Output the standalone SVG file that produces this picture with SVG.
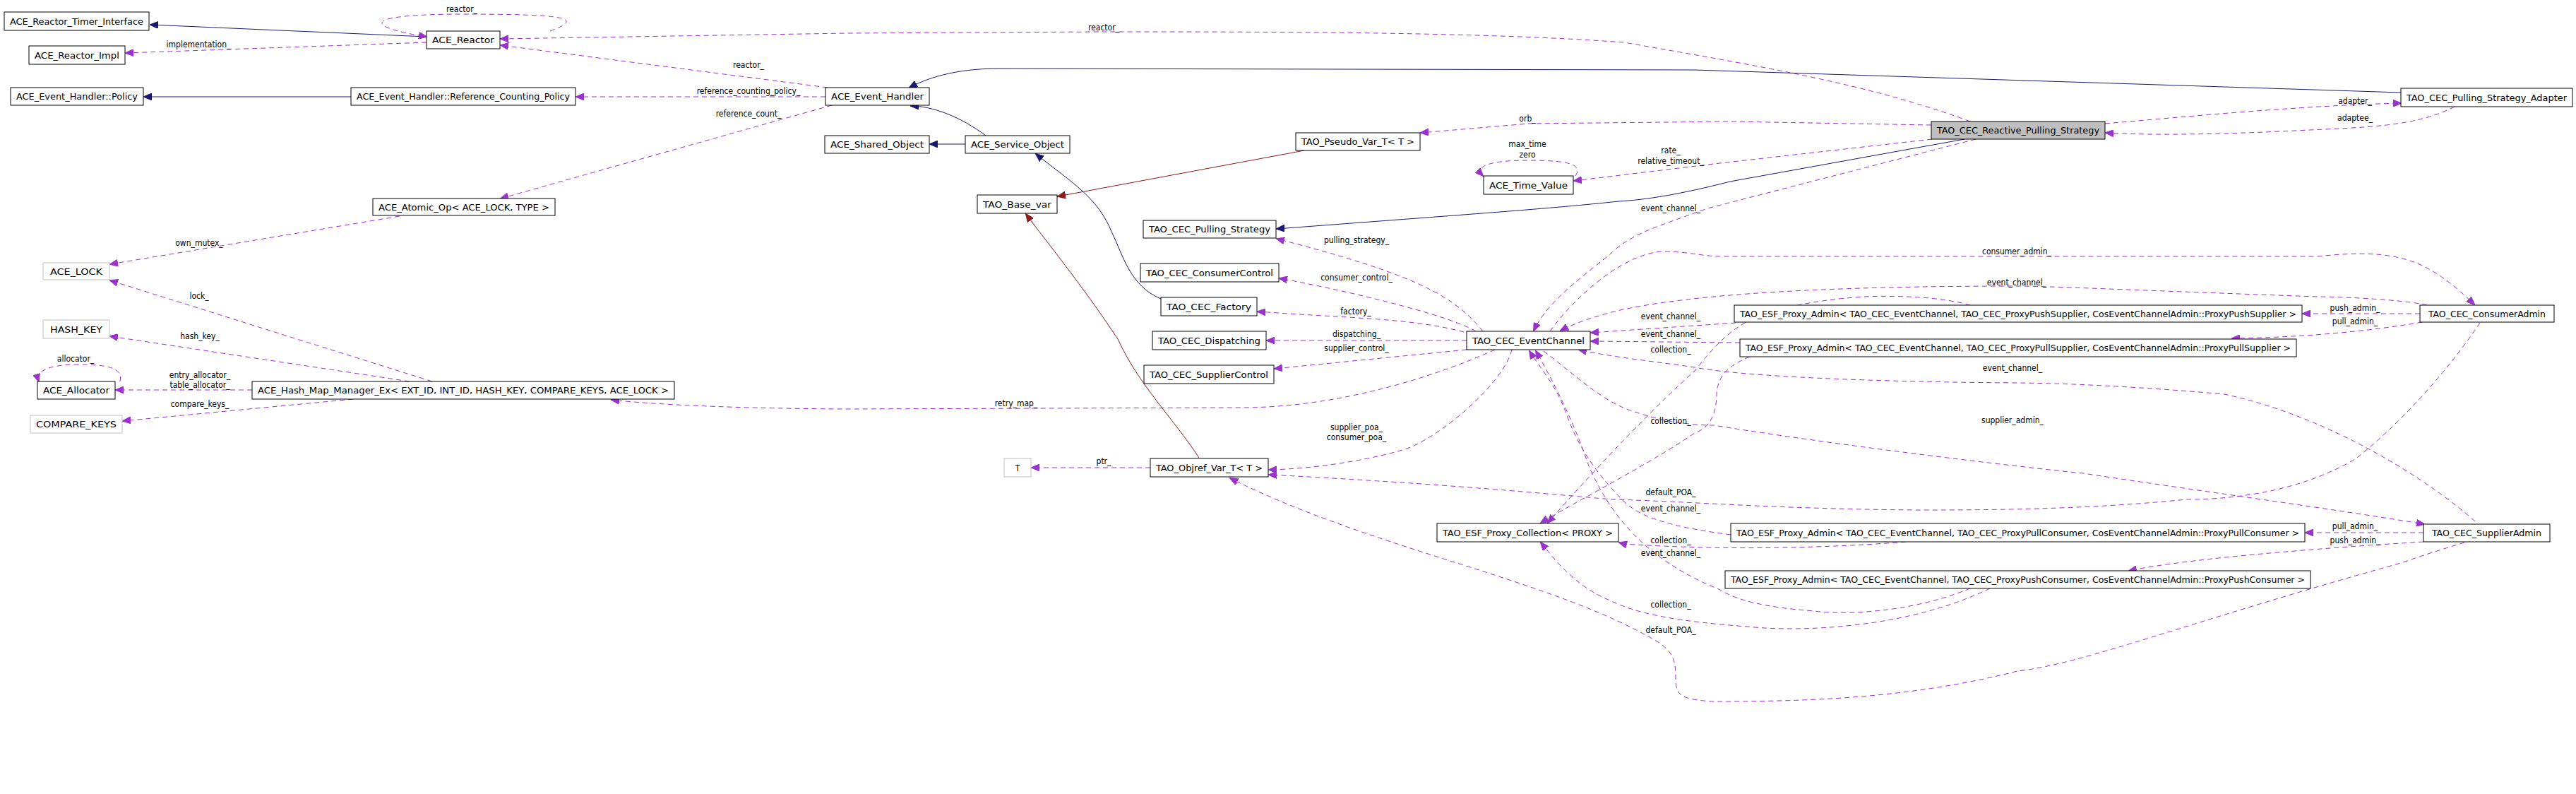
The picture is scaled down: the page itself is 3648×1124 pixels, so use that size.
<svg xmlns="http://www.w3.org/2000/svg" width="3648" height="1124" viewBox="0 0 3648 1124">
<style>
.n rect{fill:#fff;stroke:#000;stroke-width:1}
.n.g rect{stroke:#bfbfbf}
.n.f rect{fill:#bfbfbf}
text{font-family:"DejaVu Sans Condensed","DejaVu Sans",sans-serif;font-size:12px;fill:#000}
.n text{text-anchor:middle}
.l{text-anchor:middle}
.u{fill:none;stroke:#9a32cd;stroke-dasharray:7,5;marker-end:url(#mu)}
.i{fill:none;stroke:#191970;marker-end:url(#mi)}
.t{fill:none;stroke:#8b1a1a;marker-end:url(#mt)}
</style>
<defs>
<marker id="mu" markerWidth="12" markerHeight="10" refX="11" refY="5" orient="auto" markerUnits="userSpaceOnUse"><path d="M0,0 L12,5 L0,10 Z" fill="#9a32cd" stroke="#9a32cd"/></marker>
<marker id="mi" markerWidth="12" markerHeight="10" refX="11" refY="5" orient="auto" markerUnits="userSpaceOnUse"><path d="M0,0 L12,5 L0,10 Z" fill="#191970" stroke="#191970"/></marker>
<marker id="mt" markerWidth="12" markerHeight="10" refX="11" refY="5" orient="auto" markerUnits="userSpaceOnUse"><path d="M0,0 L12,5 L0,10 Z" fill="#8b1a1a" stroke="#8b1a1a"/></marker>
</defs>
<rect width="3648" height="1124" fill="#fff"/>
<g id="connectors">
<path class="i" d="M604,52 L213,35"/>
<path class="i" d="M497,137 L204,137"/>
<path class="i" d="M1396,192 C1360,165 1320,150 1290,150"/>
<path class="i" d="M1367,204 L1317,204"/>
<path class="i" d="M1644,423 C1600,405 1590,360 1575,330 C1555,280 1520,260 1467,218"/>
<path class="i" d="M3400,131 L2400,99 L1415,97 C1350,97 1310,112 1288,124"/>
<path class="i" d="M2782,197 L2450,257 C2380,275 2330,283 2292,285 C2200,295 2085,303 1808,324"/>
<path class="t" d="M1847,213 L1498,278"/>
<path class="t" d="M1698,648 C1660,590 1614,547 1583,480 C1530,400 1480,340 1453,303"/>
<path class="u" d="M779,44 C830,25 800,20 656,20 C510,20 515,38 604,52"/>
<path class="u" d="M604,60 L178,75"/>
<path class="u" d="M2790,172 C2650,120 2500,95 2300,60 C2100,45 1800,45 1563,45 L1200,47 L709,55"/>
<path class="u" d="M1172,124 L709,64"/>
<path class="u" d="M1169,137 L816,137"/>
<path class="u" d="M1178,149 L709,281"/>
<path class="u" d="M566,306 L156,374"/>
<path class="u" d="M612,540 L156,397"/>
<path class="u" d="M580,540 L156,476"/>
<path class="u" d="M170,540 C175,520 150,516 110,516 C70,516 50,525 55,540"/>
<path class="u" d="M357,552 L164,552"/>
<path class="u" d="M500,565 L174,596"/>
<path class="u" d="M2117,495 C2040,530 1900,577 1758,577 L1200,579 C1000,578 900,570 866,566"/>
<path class="u" d="M1629,662 L1461,662"/>
<path class="u" d="M2735,177 L2450,172 L2165,175 L2012,188"/>
<path class="u" d="M2231,249 C2240,235 2230,227 2165,227 C2100,227 2090,238 2100,249"/>
<path class="u" d="M2736,197 L2427,232 L2229,256"/>
<path class="u" d="M2798,197 L2418,295 C2350,320 2310,330 2280,360 C2230,400 2190,430 2172,468"/>
<path class="u" d="M2100,469 C2060,420 2010,390 1808,338"/>
<path class="u" d="M2090,469 C2050,445 1900,410 1812,394"/>
<path class="u" d="M2073,470 C2000,450 1900,450 1781,441"/>
<path class="u" d="M2077,482 L1794,482"/>
<path class="u" d="M2077,495 L1805,522"/>
<path class="u" d="M2141,495 C2130,540 2050,610 1998,633 C1950,650 1860,664 1797,665"/>
<path class="u" d="M3512,457 C3470,520 3400,600 3335,650 C3250,700 3150,707 3096,707 C2950,722 2800,722 2713,722 C2500,720 2400,710 2283,707 C2200,700 2050,685 1797,672"/>
<path class="u" d="M3490,768 C3450,780 3420,790 3400,797 C3100,880 2950,940 2857,950 C2700,990 2550,993 2426,993 C2380,990 2373,985 2373,960 C2373,935 2370,925 2350,910 C2200,820 1949,780 1742,677"/>
<path class="u" d="M2195,469 C2230,420 2300,358 2355,356 C2390,356 2410,363 2440,363 L3282,363 C3400,350 3440,370 3504,431"/>
<path class="u" d="M3437,432 C3400,423 3300,420 3282,420 C3000,410 2900,405 2856,405 C2600,405 2400,415 2290,440 C2250,450 2225,460 2210,468"/>
<path class="u" d="M3427,444 L3261,444"/>
<path class="u" d="M3430,456 C3350,470 3250,478 3161,479"/>
<path class="u" d="M2458,457 L2253,471"/>
<path class="u" d="M2464,485 L2253,483"/>
<path class="u" d="M3505,738 C3440,680 3300,590 3150,558 C3000,545 2900,542 2850,542 C2600,540 2450,530 2400,520 C2330,510 2280,505 2236,495"/>
<path class="u" d="M2186,497 C2230,530 2270,570 2315,583 C2350,595 2390,602 2427,602 C2600,630 2850,660 2950,670 C3150,700 3300,720 3433,742"/>
<path class="u" d="M2790,432 C2750,420 2680,418 2641,420 C2560,425 2500,440 2471,457 C2440,475 2420,500 2400,525 C2350,570 2280,640 2192,740"/>
<path class="u" d="M2478,505 C2440,520 2431,540 2431,560 C2430,590 2420,605 2400,613 C2330,660 2250,700 2182,740"/>
<path class="u" d="M2451,757 C2400,750 2330,740 2300,710 C2250,660 2230,620 2216,580 C2200,540 2180,520 2166,497"/>
<path class="u" d="M2790,833 C2700,870 2600,870 2570,865 C2500,860 2460,850 2436,835 C2350,800 2290,750 2250,660 C2230,600 2200,540 2175,497"/>
<path class="u" d="M2699,767 C2600,775 2450,780 2300,770 L2293,768"/>
<path class="u" d="M2818,833 C2700,890 2550,895 2474,887 C2380,880 2320,870 2280,850 C2230,830 2200,790 2182,768"/>
<path class="u" d="M3432,754 L3265,754"/>
<path class="u" d="M3432,767 C3300,775 3100,790 3015,808"/>
<path class="u" d="M2981,175 C3100,165 3250,150 3400,146"/>
<path class="u" d="M3476,151 C3420,180 3350,180 3250,185 C3150,190 3050,192 2982,188"/>
</g>
<g id="labels">
<text class="l" x="654" y="17">reactor_</text>
<text class="l" x="281" y="67">implementation_</text>
<text class="l" x="1563" y="43">reactor_</text>
<text class="l" x="1060" y="96">reactor_</text>
<text class="l" x="1060" y="133">reference_counting_policy_</text>
<text class="l" x="1060" y="165">reference_count_</text>
<text class="l" x="282" y="348">own_mutex_</text>
<text class="l" x="282" y="423">lock_</text>
<text class="l" x="283" y="480">hash_key_</text>
<text class="l" x="107" y="512">allocator_</text>
<text class="l" x="283" y="535">entry_allocator_</text>
<text class="l" x="283" y="549">table_allocator_</text>
<text class="l" x="283" y="576">compare_keys_</text>
<text class="l" x="1439" y="575">retry_map_</text>
<text class="l" x="1563" y="657">ptr_</text>
<text class="l" x="2163" y="172">orb_</text>
<text class="l" x="2163" y="208">max_time</text>
<text class="l" x="2163" y="223">zero</text>
<text class="l" x="2366" y="217">rate_</text>
<text class="l" x="2366" y="232">relative_timeout_</text>
<text class="l" x="2366" y="299">event_channel_</text>
<text class="l" x="1921" y="344">pulling_strategy_</text>
<text class="l" x="1921" y="397">consumer_control_</text>
<text class="l" x="1920" y="445">factory_</text>
<text class="l" x="1921" y="477">dispatching_</text>
<text class="l" x="1921" y="497">supplier_control_</text>
<text class="l" x="1921" y="609">supplier_poa_</text>
<text class="l" x="1921" y="623">consumer_poa_</text>
<text class="l" x="2366" y="452">event_channel_</text>
<text class="l" x="2366" y="477">event_channel_</text>
<text class="l" x="2366" y="499">collection_</text>
<text class="l" x="2366" y="600">collection_</text>
<text class="l" x="2366" y="701">default_POA_</text>
<text class="l" x="2366" y="724">event_channel_</text>
<text class="l" x="2366" y="769">collection_</text>
<text class="l" x="2366" y="787">event_channel_</text>
<text class="l" x="2366" y="860">collection_</text>
<text class="l" x="2366" y="896">default_POA_</text>
<text class="l" x="2856" y="360">consumer_admin_</text>
<text class="l" x="2856" y="404">event_channel_</text>
<text class="l" x="2850" y="525">event_channel_</text>
<text class="l" x="2850" y="599">supplier_admin_</text>
<text class="l" x="3335" y="147">adapter_</text>
<text class="l" x="3335" y="171">adaptee_</text>
<text class="l" x="3335" y="440">push_admin_</text>
<text class="l" x="3335" y="459">pull_admin_</text>
<text class="l" x="3335" y="749">pull_admin_</text>
<text class="l" x="3335" y="769">push_admin_</text>
</g>
<g id="n1" class="n"><rect x="6" y="17" width="205" height="26"/><text x="108.5" y="34.5" textLength="189" lengthAdjust="spacingAndGlyphs">ACE_Reactor_Timer_Interface</text></g>
<g id="n2" class="n"><rect x="604" y="44" width="104" height="25"/><text x="656" y="61" textLength="88" lengthAdjust="spacingAndGlyphs">ACE_Reactor</text></g>
<g id="n3" class="n"><rect x="41" y="65" width="136" height="26"/><text x="109" y="82.5" textLength="120" lengthAdjust="spacingAndGlyphs">ACE_Reactor_Impl</text></g>
<g id="n4" class="n"><rect x="15" y="124" width="188" height="25"/><text x="109" y="141" textLength="172" lengthAdjust="spacingAndGlyphs">ACE_Event_Handler::Policy</text></g>
<g id="n5" class="n"><rect x="497" y="124" width="318" height="25"/><text x="656" y="141" textLength="302" lengthAdjust="spacingAndGlyphs">ACE_Event_Handler::Reference_Counting_Policy</text></g>
<g id="n6" class="n"><rect x="1169" y="124" width="147" height="25"/><text x="1242.5" y="141" textLength="131" lengthAdjust="spacingAndGlyphs">ACE_Event_Handler</text></g>
<g id="n7" class="n"><rect x="1168" y="192" width="148" height="25"/><text x="1242" y="209" textLength="132" lengthAdjust="spacingAndGlyphs">ACE_Shared_Object</text></g>
<g id="n8" class="n"><rect x="1367" y="192" width="148" height="25"/><text x="1441" y="209" textLength="132" lengthAdjust="spacingAndGlyphs">ACE_Service_Object</text></g>
<g id="n9" class="n"><rect x="1835" y="188" width="176" height="25"/><text x="1923" y="205" textLength="160" lengthAdjust="spacingAndGlyphs">TAO_Pseudo_Var_T&lt; T &gt;</text></g>
<g id="n10" class="n"><rect x="2101" y="249" width="127" height="26"/><text x="2164.5" y="266.5" textLength="111" lengthAdjust="spacingAndGlyphs">ACE_Time_Value</text></g>
<g id="n11" class="n"><rect x="1384" y="276" width="113" height="26"/><text x="1440.5" y="293.5" textLength="97" lengthAdjust="spacingAndGlyphs">TAO_Base_var</text></g>
<g id="n12" class="n"><rect x="1619" y="312" width="188" height="25"/><text x="1713" y="329" textLength="172" lengthAdjust="spacingAndGlyphs">TAO_CEC_Pulling_Strategy</text></g>
<g id="n13" class="n"><rect x="528" y="281" width="258" height="24"/><text x="657" y="297.5" textLength="242" lengthAdjust="spacingAndGlyphs">ACE_Atomic_Op&lt; ACE_LOCK, TYPE &gt;</text></g>
<g id="n14" class="n g"><rect x="61" y="372" width="94" height="24"/><text x="108" y="388.5" textLength="74" lengthAdjust="spacingAndGlyphs">ACE_LOCK</text></g>
<g id="n15" class="n"><rect x="1615" y="373" width="196" height="26"/><text x="1713" y="390.5" textLength="180" lengthAdjust="spacingAndGlyphs">TAO_CEC_ConsumerControl</text></g>
<g id="n16" class="n"><rect x="1644" y="421" width="136" height="26"/><text x="1712" y="438.5" textLength="120" lengthAdjust="spacingAndGlyphs">TAO_CEC_Factory</text></g>
<g id="n17" class="n g"><rect x="61" y="453" width="94" height="26"/><text x="108" y="470.5" textLength="74" lengthAdjust="spacingAndGlyphs">HASH_KEY</text></g>
<g id="n18" class="n"><rect x="1632" y="469" width="161" height="26"/><text x="1712.5" y="486.5" textLength="145" lengthAdjust="spacingAndGlyphs">TAO_CEC_Dispatching</text></g>
<g id="n19" class="n"><rect x="2077" y="469" width="175" height="26"/><text x="2164.5" y="486.5" textLength="159" lengthAdjust="spacingAndGlyphs">TAO_CEC_EventChannel</text></g>
<g id="n20" class="n"><rect x="1620" y="517" width="184" height="26"/><text x="1712" y="534.5" textLength="168" lengthAdjust="spacingAndGlyphs">TAO_CEC_SupplierControl</text></g>
<g id="n21" class="n"><rect x="53" y="540" width="110" height="25"/><text x="108" y="557" textLength="94" lengthAdjust="spacingAndGlyphs">ACE_Allocator</text></g>
<g id="n22" class="n"><rect x="357" y="540" width="598" height="25"/><text x="656" y="557" textLength="582" lengthAdjust="spacingAndGlyphs">ACE_Hash_Map_Manager_Ex&lt; EXT_ID, INT_ID, HASH_KEY, COMPARE_KEYS, ACE_LOCK &gt;</text></g>
<g id="n23" class="n g"><rect x="43" y="588" width="130" height="25"/><text x="108" y="605" textLength="114" lengthAdjust="spacingAndGlyphs">COMPARE_KEYS</text></g>
<g id="n24" class="n g"><rect x="1422" y="649" width="38" height="26"/><text x="1441" y="666.5">T</text></g>
<g id="n25" class="n"><rect x="1629" y="649" width="167" height="26"/><text x="1712.5" y="666.5" textLength="151" lengthAdjust="spacingAndGlyphs">TAO_Objref_Var_T&lt; T &gt;</text></g>
<g id="n26" class="n"><rect x="2035" y="741" width="257" height="26"/><text x="2163.5" y="758.5" textLength="241" lengthAdjust="spacingAndGlyphs">TAO_ESF_Proxy_Collection&lt; PROXY &gt;</text></g>
<g id="n27" class="n f"><rect x="2735" y="172" width="246" height="25"/><text x="2858" y="189" textLength="230" lengthAdjust="spacingAndGlyphs">TAO_CEC_Reactive_Pulling_Strategy</text></g>
<g id="n28" class="n"><rect x="3400" y="125" width="243" height="26"/><text x="3521.5" y="142.5" textLength="227" lengthAdjust="spacingAndGlyphs">TAO_CEC_Pulling_Strategy_Adapter</text></g>
<g id="n29" class="n"><rect x="3427" y="432" width="190" height="24"/><text x="3522" y="448.5" textLength="166" lengthAdjust="spacingAndGlyphs">TAO_CEC_ConsumerAdmin</text></g>
<g id="n30" class="n"><rect x="2456" y="432" width="804" height="24"/><text x="2858" y="448.5" textLength="788" lengthAdjust="spacingAndGlyphs">TAO_ESF_Proxy_Admin&lt; TAO_CEC_EventChannel, TAO_CEC_ProxyPushSupplier, CosEventChannelAdmin::ProxyPushSupplier &gt;</text></g>
<g id="n31" class="n"><rect x="2464" y="480" width="788" height="25"/><text x="2858" y="497" textLength="772" lengthAdjust="spacingAndGlyphs">TAO_ESF_Proxy_Admin&lt; TAO_CEC_EventChannel, TAO_CEC_ProxyPullSupplier, CosEventChannelAdmin::ProxyPullSupplier &gt;</text></g>
<g id="n32" class="n"><rect x="2451" y="741" width="813" height="26"/><text x="2857.5" y="758.5" textLength="797" lengthAdjust="spacingAndGlyphs">TAO_ESF_Proxy_Admin&lt; TAO_CEC_EventChannel, TAO_CEC_ProxyPullConsumer, CosEventChannelAdmin::ProxyPullConsumer &gt;</text></g>
<g id="n33" class="n"><rect x="2443" y="808" width="829" height="25"/><text x="2857.5" y="825" textLength="813" lengthAdjust="spacingAndGlyphs">TAO_ESF_Proxy_Admin&lt; TAO_CEC_EventChannel, TAO_CEC_ProxyPushConsumer, CosEventChannelAdmin::ProxyPushConsumer &gt;</text></g>
<g id="n34" class="n"><rect x="3432" y="742" width="179" height="25"/><text x="3521.5" y="759" textLength="155" lengthAdjust="spacingAndGlyphs">TAO_CEC_SupplierAdmin</text></g>
</svg>
